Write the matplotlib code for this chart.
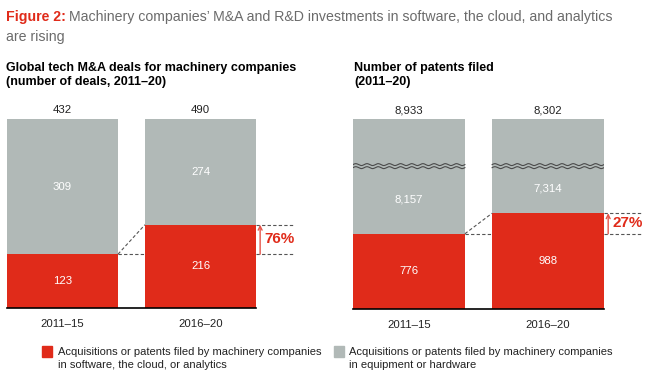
import numpy as np
import matplotlib
matplotlib.use("Agg")
import matplotlib.pyplot as plt
from matplotlib.patches import Rectangle

plt.rcParams['font.family'] = ['Liberation Sans', 'DejaVu Sans']

# data
periods = ["2011–15", "2016–20"]
deals_tech = [123, 216]
deals_hw = [309, 274]
deals_total = [432, 490]
deals_growth = "76%"
patents_tech = [776, 988]
patents_hw = [8157, 7314]
patents_total = [8933, 8302]
patents_growth = "27%"

RED = '#E02B1A'
GREY = '#B1B9B7'
W, H = 650, 376


def fx(x):
    return x / W


def fy(y):
    return 1 - y / H


fig = plt.figure(figsize=(6.5, 3.76), dpi=100)
fig.patch.set_facecolor('white')

# title: red bold prefix + grey rest
r = fig.canvas.get_renderer()
t1 = fig.text(fx(6), fy(17), "Figure 2:", color=RED, fontsize=10.2, fontweight='bold', va='center')
bb = t1.get_window_extent(renderer=r)
fig.text(bb.x1 / W + fx(3), fy(17),
         "Machinery companies’ M&A and R&D investments in software, the cloud, and analytics",
         color='#6b6b6b', fontsize=10.2, va='center')
fig.text(fx(6), fy(37), "are rising", color='#6b6b6b', fontsize=10.2, va='center')

fig.text(fx(6), fy(75), "Global tech M&A deals for machinery companies\n(number of deals, 2011–20)",
         fontsize=9, fontweight='bold', va='center', linespacing=1.25)
fig.text(fx(354), fy(75), "Number of patents filed\n(2011–20)",
         fontsize=9, fontweight='bold', va='center', linespacing=1.25)

w = 111 / 138
x = np.arange(len(periods))


def panel(ax, tech_h, tech, hw, total, growth, top, broken):
    # tech_h: drawn heights of the red segment (shares or counts)
    ax.bar(x, tech_h, width=w, color=RED, linewidth=0)
    grey_h = [top - t for t in tech_h]
    ax.bar(x, grey_h, bottom=tech_h, width=w, color=GREY, linewidth=0)
    ax.set_xlim(-w / 2, 1 + w / 2)
    ax.set_ylim(0, top)
    for s in ['top', 'left', 'right']:
        ax.spines[s].set_visible(False)
    ax.spines['bottom'].set_linewidth(1.2)
    ax.set_yticks([])
    ax.set_xticks(x, periods, fontsize=8.2)
    ax.tick_params(axis='x', length=0, pad=8, colors='#222')

    brk = 0.76 * top
    upper = brk if broken else top
    for i in x:
        ax.text(i, top * 1.02, f"{total[i]:,}", ha='center', va='bottom', fontsize=8.2, color='#222')
        ax.text(i, tech_h[i] / 2, f"{tech[i]:,}", ha='center', va='center', fontsize=8.2, color='white')
        ax.text(i, (tech_h[i] + upper) / 2, f"{hw[i]:,}", ha='center', va='center',
                fontsize=8.2, color='white')
        if broken:
            xs = np.linspace(i - w / 2, i + w / 2, 300)
            ys = np.sin((xs - xs[0]) / (w / 10) * 2 * np.pi) * top * 0.005
            for off in (0.0, -0.016 * top):
                ax.plot(xs, brk + off + ys, color='#4a4a4a', lw=0.8)

    ls = dict(color='#555', lw=0.8, linestyle=(0, (3, 2)), clip_on=False)
    ax.plot([w / 2, 1 - w / 2], [tech_h[0], tech_h[0]], **ls)
    ax.plot([w / 2, 1 - w / 2], [tech_h[0], tech_h[1]], **ls)
    xe = 1 + w / 2
    ax.plot([xe, xe + 0.27], [tech_h[0], tech_h[0]], **ls)
    ax.plot([xe, xe + 0.27], [tech_h[1], tech_h[1]], **ls)
    ax.annotate("", xy=(xe + 0.03, tech_h[1]), xytext=(xe + 0.03, tech_h[0]),
                arrowprops=dict(arrowstyle='->', color='#E5554A', lw=1, shrinkA=0, shrinkB=0,
                                mutation_scale=7),
                annotation_clip=False)
    ax.text(xe + 0.06, (tech_h[0] + tech_h[1]) / 2, growth, color=RED, fontsize=11,
            fontweight='bold', va='center', ha='left', clip_on=False)


# left panel: 100% stacked (shares of total deals)
ax1 = fig.add_axes([fx(7), fy(308), 249 / W, 189 / H])
deal_share = [t / s for t, s in zip(deals_tech, deals_total)]
panel(ax1, deal_share, deals_tech, deals_hw, deals_total, deals_growth, 1.0, False)

# right panel: broken axis, red segment in counts
ax2 = fig.add_axes([fx(353), fy(309), 251 / W, 190 / H])
panel(ax2, patents_tech, patents_tech, patents_hw, patents_total, patents_growth, 1960, True)

# legend
fig.patches.append(Rectangle((fx(42), fy(357)), 10 / W, 11 / H, transform=fig.transFigure,
                             color=RED, figure=fig))
fig.text(fx(58), fy(358.5), "Acquisitions or patents filed by machinery companies\nin software, the cloud, or analytics",
         fontsize=8, va='center', color='#222', linespacing=1.35)
fig.patches.append(Rectangle((fx(334), fy(357)), 10 / W, 11 / H, transform=fig.transFigure,
                             color=GREY, figure=fig))
fig.text(fx(349), fy(358.5), "Acquisitions or patents filed by machinery companies\nin equipment or hardware",
         fontsize=8, va='center', color='#222', linespacing=1.35)

fig.savefig("out.png", dpi=100)
